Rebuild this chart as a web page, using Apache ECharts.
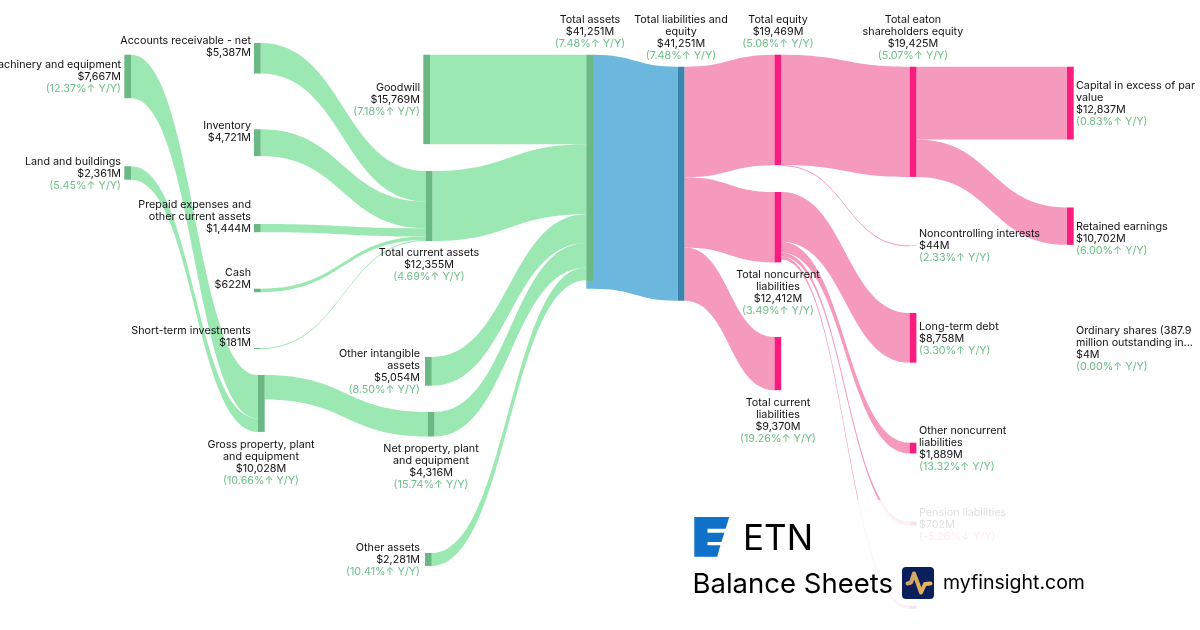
<!DOCTYPE html>
<html>
<head>
<meta charset="utf-8">
<title>ETN Balance Sheets</title>
<style>
  html, body { margin: 0; padding: 0; background: #fff; }
  #chart { width: 1200px; height: 630px; }
</style>
<script src="https://cdn.jsdelivr.net/npm/echarts@6/dist/echarts.min.js"></script>
</head>
<body>
<div id="chart"></div>
<script>
// nodes, column by column, top to bottom
const nodeNames = [
  'Machinery and equipment', 'Land and buildings',
  'Accounts receivable - net', 'Inventory', 'Prepaid expenses and\nother current assets', 'Cash', 'Short-term investments', 'Gross property, plant\nand equipment',
  'Goodwill', 'Total current assets', 'Other intangible\nassets', 'Net property, plant\nand equipment', 'Other assets',
  'Total assets',
  'Total liabilities and\nequity',
  'Total equity', 'Total noncurrent\nliabilities', 'Total current\nliabilities',
  'Total eaton\nshareholders equity', 'Noncontrolling interests', 'Long-term debt', 'Other noncurrent\nliabilities', 'Pension liabilities', 'Unlabelled',
  'Capital in excess of par\nvalue', 'Retained earnings', 'Ordinary shares (387.9\nmillion outstanding in...'
];
const nodeDepths = [0, 0, 1, 1, 1, 1, 1, 1, 2, 2, 2, 2, 2, 3, 4, 5, 5, 5, 6, 6, 6, 6, 6, 6, 7, 7, 7];
const valueLabels = [
  '$7,667M', '$2,361M',
  '$5,387M', '$4,721M', '$1,444M', '$622M', '$181M', '$10,028M',
  '$15,769M', '$12,355M', '$5,054M', '$4,316M', '$2,281M',
  '$41,251M',
  '$41,251M',
  '$19,469M', '$12,412M', '$9,370M',
  '$19,425M', '$44M', '$8,758M', '$1,889M', '$702M', '',
  '$12,837M', '$10,702M', '$4M'
];
const yoyLabels = [
  '12.37%↑', '5.45%↑',
  '', '', '', '', '', '10.66%↑',
  '7.18%↑', '4.69%↑', '8.50%↑', '15.74%↑', '10.41%↑',
  '7.48%↑',
  '7.48%↑',
  '5.06%↑', '3.49%↑', '19.26%↑',
  '5.07%↑', '2.33%↑', '3.30%↑', '13.32%↑', '-5.26%↓', '',
  '0.83%↑', '6.00%↑', '0.00%↑'
];

// flows, as indexes into nodeNames. ordinary shares ($4M) draws no flow in the picture
const linkSources = [0, 1, 2, 3, 4, 5, 6, 7, 8, 9, 10, 11, 12, 13, 14, 14, 14, 15, 15, 16, 16, 16, 16, 18, 18];
const linkTargets = [7, 7, 9, 9, 9, 9, 9, 11, 13, 13, 13, 13, 13, 14, 15, 16, 17, 18, 19, 20, 21, 22, 23, 24, 25];
const linkValues = [7667, 2361, 5387, 4721, 1444, 622, 181, 4316, 15769, 12355, 5054, 4316, 2281, 41251, 19469, 12412, 9370, 19425, 44, 8758, 1889, 702, 530, 12837, 6588];

// where the nodes sit on the page: left x, top y
const nodeSpots = [
  [124.3, 54.7], [124.3, 166.3],
  [254, 43], [254, 129.3], [254, 224], [254, 288.7], [254, 348], [258, 375],
  [423.3, 54.7], [425.7, 171], [425, 357], [427.7, 412], [425, 553],
  [586.3, 54.7],
  [677.7, 66.7],
  [774.5, 54.7], [774.5, 192], [774.5, 337],
  [909.7, 66.7], [909.7, 245.3], [909.7, 313], [909.7, 442.7], [909.7, 521.7], [909.7, 605.7],
  [1067, 66.7], [1067, 207.5], [1067, 347]
];
// label anchor on the page: x, middle y, text align
const labelSpots = [
  [121, 77, 'right'], [121, 174, 'right'],
  [251, 47, 'right'], [251, 132, 'right'], [251, 217, 'right'], [251, 279, 'right'], [251, 337, 'right'], [261, 463, 'center'],
  [420, 100, 'right'], [429, 265, 'center'], [420, 372, 'right'], [431, 467, 'center'], [420, 560, 'right'],
  [590, 32, 'center'],
  [681, 38, 'center'],
  [778, 32, 'center'], [778, 293, 'center'], [778, 421, 'center'],
  [913, 38, 'center'], [919, 246, 'left'], [919, 339, 'left'], [919, 449, 'left'], [919, 525, 'left'], [919, 608, 'left'],
  [1076, 104, 'left'], [1076, 239, 'left'], [1076, 349, 'left']
];

const plotW = 1200;
const plotH = 234; // 41,251M fills this height, which sets the scale for everything else
const nodeW = 6.7;

const greenNode = '#6ab883';
const greenLink = '#9be8b3';
const pinkNode = '#f81d7f';
const pinkLink = '#f59abc';
const blueNode = '#3a85ad';
const blueLink = '#6bb7de';

function nodeColor(i) {
  if (i === 13) {
    // the assets bar only covers its 39,775M of inflows, the flow behind it runs on below
    return new echarts.graphic.LinearGradient(0, 0, 0, 1, [
      { offset: 0, color: greenNode },
      { offset: 0.966, color: greenNode },
      { offset: 0.966, color: blueLink },
      { offset: 1, color: blueLink }
    ]);
  }
  if (i < 13) return greenNode;
  if (i === 14) return blueNode;
  return pinkNode;
}

function linkColor(src) {
  if (src < 13) return greenLink;
  if (src === 13) return blueLink;
  return pinkLink;
}

function labelText(i) {
  const lines = nodeNames[i].split('\n').map(function (s) { return '{name|' + s + '}'; });
  if (valueLabels[i]) lines.push('{name|' + valueLabels[i] + '}');
  if (yoyLabels[i]) {
    lines.push((yoyLabels[i][0] === '-' ? '{down|(' : '{up|(') + yoyLabels[i] + ' Y/Y)}');
  }
  return lines.join('\n');
}

const sankeyNodes = nodeNames.map(function (name, i) {
  return {
    name: name,
    depth: nodeDepths[i],
    localX: nodeSpots[i][0] / plotW,
    localY: nodeSpots[i][1] / plotH,
    itemStyle: { color: nodeColor(i), borderWidth: 0, opacity: 1 },
    label: {
      show: name !== 'Unlabelled',
      position: [labelSpots[i][0] - nodeSpots[i][0], labelSpots[i][1] - nodeSpots[i][1]],
      align: labelSpots[i][2],
      verticalAlign: 'middle',
      formatter: labelText(i)
    }
  };
});

const sankeyLinks = linkValues.map(function (v, i) {
  return {
    source: nodeNames[linkSources[i]],
    target: nodeNames[linkTargets[i]],
    value: v,
    lineStyle: { color: linkColor(linkSources[i]), opacity: 1, curveness: 0.5 }
  };
});

const chart = echarts.init(document.getElementById('chart'), null, { renderer: 'canvas' });

const labelFont = 10.75;

chart.setOption({
  animation: false,
  backgroundColor: '#fff',
  textStyle: { fontFamily: 'Inter' },
  series: [{
    type: 'sankey',
    left: 0,
    top: 0,
    width: plotW,
    height: plotH,
    nodeWidth: nodeW,
    nodeGap: 0,
    layoutIterations: 0,
    draggable: false,
    emphasis: { disabled: true },
    data: sankeyNodes,
    links: sankeyLinks,
    label: {
      fontFamily: 'Inter',
      fontSize: labelFont,
      lineHeight: 12,
      color: '#111',
      rich: {
        name: { fontFamily: 'Inter', fontSize: labelFont, lineHeight: 12, color: '#111' },
        up: { fontFamily: 'Inter', fontSize: labelFont, lineHeight: 12, color: '#6dbf88' },
        down: { fontFamily: 'Inter', fontSize: labelFont, lineHeight: 12, color: '#f06a8f' }
      }
    }
  }],
  graphic: [
    // white veil over the bottom right, logo block sits on it
    { type: 'rect', z: 50, shape: { x: 690, y: 500, width: 410, height: 130 }, style: { fill: 'rgba(255,255,255,0.86)' } },
    { type: 'polygon', z: 51, shape: { points: [[694.3, 517], [729.3, 517], [725.6, 528.7], [707.5, 528.7], [707.5, 532.7], [724.4, 532.7], [721.4, 542], [707.5, 542], [707.5, 545.3], [720.4, 545.3], [717.2, 556.7], [694.3, 556.7]] }, style: { fill: '#0f72c8' } },
    { type: 'text', z: 51, style: { x: 743, y: 539, text: 'ETN', font: '35px Inter', fill: '#000', textVerticalAlign: 'middle' } },
    { type: 'text', z: 51, style: { x: 692.5, y: 585, text: 'Balance Sheets', font: '27.5px Inter', fill: '#000', textVerticalAlign: 'middle' } },
    { type: 'rect', z: 51, shape: { x: 902, y: 567, width: 32, height: 32, r: 4 }, style: { fill: '#0b1f5b' } },
    {
      type: 'polyline', z: 52,
      shape: { points: [[907.5, 583.5], [911, 582.5], [914, 573.5], [918, 584], [921, 592.5], [925, 584], [930.5, 583.5]] },
      style: {
        fill: 'none',
        stroke: new echarts.graphic.LinearGradient(0, 0, 1, 0, [{ offset: 0, color: '#c9a070' }, { offset: 1, color: '#f2bc55' }]),
        lineWidth: 4, lineJoin: 'round', lineCap: 'round'
      }
    },
    { type: 'text', z: 51, style: { x: 943, y: 583.5, text: 'myfinsight.com', font: '19.5px Inter', fill: '#000', textVerticalAlign: 'middle' } }
  ]
});
</script>
</body>
</html>
